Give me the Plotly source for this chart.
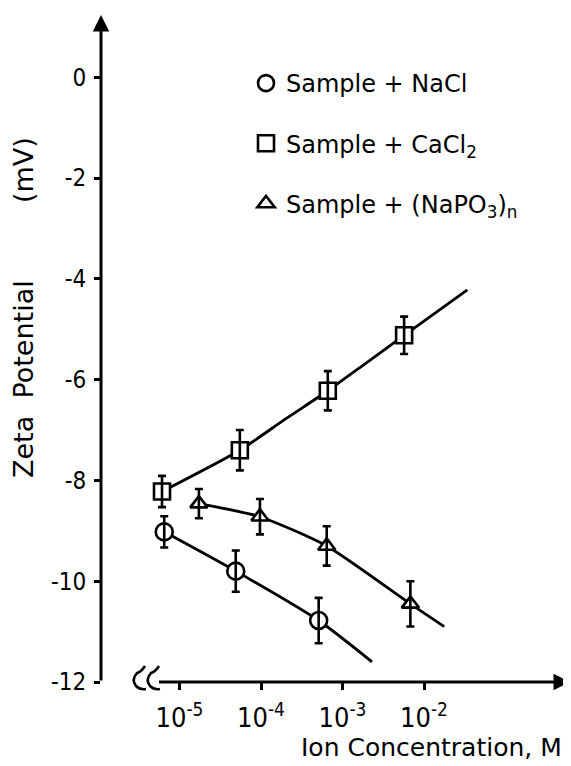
import numpy as np
import plotly.graph_objects as go

# ---------------- data ----------------
# concentrations in mol/L, zeta potential in mV, error = half-height of bar
nacl_conc = [6.5e-6, 4.9e-5, 5.1e-4]
nacl_zeta = [-9.02, -9.80, -10.78]
nacl_err = [0.31, 0.41, 0.45]

cacl2_conc = [6.1e-6, 5.5e-5, 6.6e-4, 5.7e-3]
cacl2_zeta = [-8.22, -7.40, -6.22, -5.12]
cacl2_err = [0.31, 0.40, 0.39, 0.37]

napo3_conc = [1.73e-5, 9.7e-5, 6.4e-4, 6.8e-3]
napo3_zeta = [-8.46, -8.72, -9.30, -10.45]
napo3_err = [0.29, 0.35, 0.39, 0.45]

# hand-drawn fit curves
nacl_fit_conc = [6.5e-6, 4.9e-5, 5.1e-4, 2.3e-3]
nacl_fit_zeta = [-9.02, -9.80, -10.78, -11.60]

cacl2_fit_conc = [6.1e-6, 5.5e-5, 2.0e-4, 6.6e-4, 1.7e-3, 5.7e-3, 3.4e-2]
cacl2_fit_zeta = [-8.22, -7.40, -6.78, -6.22, -5.74, -5.12, -4.22]

napo3_fit_conc = [1.73e-5, 9.7e-5, 6.4e-4, 6.8e-3, 1.77e-2]
napo3_fit_zeta = [-8.46, -8.72, -9.30, -10.45, -10.90]

y_ticks = [0, -2, -4, -6, -8, -10, -12]
y_ticktext = ["0", "-2", "-4", "-6", "-8", "-10", "-12"]
x_tick_exp = [-5, -4, -3, -2]
x_ticktext = [f"10<sup>{e}</sup>" for e in x_tick_exp]

legend_names = ["Sample + NaCl", "Sample + CaCl<sub>2</sub>", "Sample + (NaPO<sub>3</sub>)<sub>n</sub>"]

# ---------------- figure ----------------
# the page body has an 8px margin, so the figure is 8px smaller and offset
W, H = 563, 758
ML, MR, MT, MB = 93, 1, 7, 84
PW, PH = W - ML - MR, H - MT - MB
X_RANGE = [-5.963, -0.209]
Y_RANGE = [-12.0, 1.236]

lg = np.log10
fig = go.Figure()

LW = 2.8
for fx, fy in [(nacl_fit_conc, nacl_fit_zeta), (cacl2_fit_conc, cacl2_fit_zeta),
               (napo3_fit_conc, napo3_fit_zeta)]:
    fig.add_trace(go.Scatter(x=lg(fx), y=fy, mode="lines", showlegend=False,
                             line=dict(color="black", width=LW, shape="spline", smoothing=0.6),
                             hoverinfo="skip"))

series = [
    (nacl_conc, nacl_zeta, nacl_err, "circle", 17),
    (cacl2_conc, cacl2_zeta, cacl2_err, "square", 16),
    (napo3_conc, napo3_zeta, napo3_err, "triangle-up", 15),
]
for i, (cx, cy, ce, sym, sz) in enumerate(series):
    fig.add_trace(go.Scatter(
        x=lg(cx), y=cy, mode="markers", name=legend_names[i],
        legendgroup=f"g{i}",
        marker=dict(symbol=sym, size=sz, color="white", line=dict(color="black", width=2.6)),
    ))
    fig.add_trace(go.Scatter(
        x=lg(cx), y=cy, mode="markers", showlegend=False, hoverinfo="skip",
        legendgroup=f"g{i}",
        marker=dict(size=1, color="rgba(0,0,0,0)"),
        error_y=dict(type="data", array=ce, visible=True, color="black",
                     thickness=2.6, width=4),
    ))

def px2paper(px, py):
    # px, py given in window pixels
    return (px - 8 - ML) / PW, (H - MB - (py - 8)) / PH

annotations = [
    dict(x=X_RANGE[0], y=Y_RANGE[1], ax=X_RANGE[0], ay=Y_RANGE[0],
         xref="x", yref="y", axref="x", ayref="y", text="", showarrow=True,
         arrowhead=2, arrowsize=1.1, arrowwidth=3, arrowcolor="black", standoff=0, startstandoff=0),
    dict(x=X_RANGE[1], y=Y_RANGE[0], ax=-5.27, ay=Y_RANGE[0],
         xref="x", yref="y", axref="x", ayref="y", text="", showarrow=True,
         arrowhead=2, arrowsize=1.1, arrowwidth=3, arrowcolor="black", standoff=0, startstandoff=0),
]

tx, ty = px2paper(23, 308)
annotations.append(dict(
    x=tx, y=ty, xref="paper", yref="paper", showarrow=False, textangle=-90,
    text="Zeta\u00a0\u00a0Potential\u00a0\u00a0\u00a0\u00a0\u00a0\u00a0\u00a0\u00a0\u00a0(mV)",
    font=dict(family="DejaVu Sans", size=27, color="black"),
    xanchor="center", yanchor="middle"))

bx, by = px2paper(563, 747)
annotations.append(dict(
    x=bx, y=by, xref="paper", yref="paper", showarrow=False,
    text="Ion Concentration, M",
    font=dict(family="DejaVu Sans", size=25, color="black"),
    xanchor="right", yanchor="middle", borderpad=0))

shapes = []
def squiggle(L, T):
    pts = [(L + 12, T - 1), (L + 8, T + 5), (L + 4, T + 6), (L - 2, T + 13),
           (L + 3, T + 19), (L + 7, T + 23), (L + 13, T + 22)]
    p = [px2paper(a, b) for a, b in pts]
    return (f"M {p[0][0]},{p[0][1]} Q {p[1][0]},{p[1][1]} {p[2][0]},{p[2][1]} "
            f"Q {p[3][0]},{p[3][1]} {p[4][0]},{p[4][1]} "
            f"Q {p[5][0]},{p[5][1]} {p[6][0]},{p[6][1]}")
for L in (133, 147):
    shapes.append(dict(type="path", xref="paper", yref="paper", path=squiggle(L, 667),
                       line=dict(color="black", width=2.6)))

lx, ly = px2paper(246, 61)

fig.update_layout(
    width=W, height=H,
    margin=dict(l=ML, r=MR, t=MT, b=MB, pad=0),
    paper_bgcolor="white", plot_bgcolor="white",
    font=dict(family="Liberation Sans Narrow, DejaVu Sans Condensed, Liberation Sans", size=24, color="black"),
    xaxis=dict(range=X_RANGE, showgrid=False, zeroline=False, showline=False,
               tickmode="array", tickvals=x_tick_exp, ticktext=x_ticktext,
               tickfont=dict(size=27),
               ticks="outside", ticklen=7, tickwidth=2.5, tickcolor="black",
               ticklabelstandoff=5),
    yaxis=dict(range=Y_RANGE, showgrid=False, zeroline=False, showline=False,
               tickmode="array", tickvals=y_ticks, ticktext=y_ticktext,
               ticks="outside", ticklen=6, tickwidth=2.5, tickcolor="black",
               ticklabelstandoff=3),
    legend=dict(x=lx, y=ly, xanchor="left", yanchor="top",
                font=dict(family="DejaVu Sans", size=24, color="black"),
                bgcolor="rgba(0,0,0,0)", tracegroupgap=26, traceorder="grouped",
                itemsizing="trace"),
    annotations=annotations,
    shapes=shapes,
    showlegend=True,
)

fig.write_html("out.html")
